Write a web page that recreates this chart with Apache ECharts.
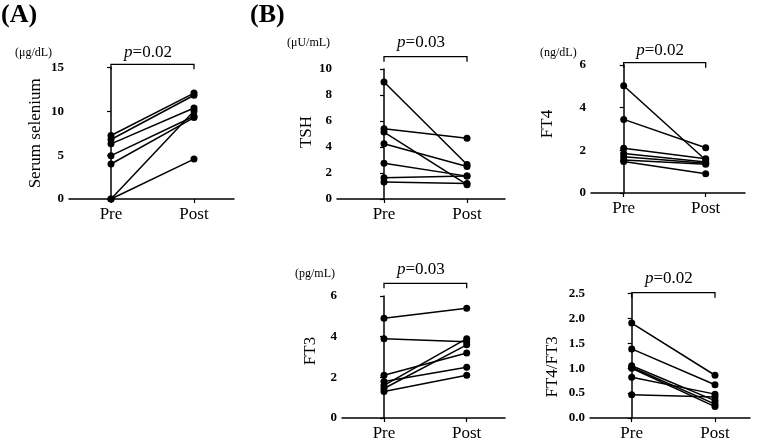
<!DOCTYPE html>
<html><head><meta charset="utf-8">
<script src="https://cdn.jsdelivr.net/npm/echarts@6/dist/echarts.min.js"></script>
<style>html,body{margin:0;padding:0;background:#fff}#c{width:758px;height:442px}</style>
</head><body><div id="c"></div>
<script>
const categories = ['Pre', 'Post'];
const seleniumPre  = [7.25, 6.8, 6.3, 4.95, 4.0, 0, 0];
const seleniumPost = [12.1, 11.85, 10.4, 9.45, 9.3, 10.05, 4.56];
const tshPre  = [9.0, 5.4, 5.15, 4.25, 2.75, 1.63, 1.3];
const tshPost = [2.65, 4.68, 1.1, 2.5, 1.76, 1.76, 1.2];
const ft4Pre  = [5.03, 3.45, 2.1, 1.85, 1.7, 1.55, 1.48];
const ft4Post = [1.55, 2.12, 1.6, 1.45, 1.4, 1.35, 0.9];
const ft3Pre  = [4.9, 3.9, 2.1, 1.8, 1.6, 1.45, 1.3];
const ft3Post = [5.4, 3.75, 3.2, 2.5, 3.9, 3.6, 2.1];
const ratioPre  = [1.91, 1.39, 1.05, 1.02, 1.0, 0.82, 0.47];
const ratioPost = [0.86, 0.67, 0.35, 0.28, 0.23, 0.48, 0.42];

const axisNames = ['Serum selenium', 'TSH', 'FT4', 'FT3', 'FT4/FT3'];
const unitLabels = ['(μg/dL)', '(μU/mL)', '(ng/dL)', '(pg/mL)', ''];
const pLabels = ['0.02', '0.03', '0.02', '0.03', '0.02'];
const yMax = [15, 10, 6, 6, 2.5];
const yInterval = [5, 2, 2, 2, 0.5];
const yDecimals = [0, 0, 0, 0, 1];

const panels = [
  {pre: seleniumPre, post: seleniumPost},
  {pre: tshPre, post: tshPost},
  {pre: ft4Pre, post: ft4Post},
  {pre: ft3Pre, post: ft3Post},
  {pre: ratioPre, post: ratioPost}
];

// layout (pixels)
const layout = [
  {left: 69,  top: 67.7, height: 131.3, pre: 111,   post: 194,   right: 234, nameGap: 25, namePad: [0, 0, 0, 0],  unitX: 15,  unitY: 53,  pY: 53,  brY: 64.3},
  {left: 337, top: 69,   height: 130,   pre: 384,   post: 467,   right: 505, nameGap: 22, namePad: [0, 0, 0, 4],  unitX: 287, unitY: 43,  pY: 43,  brY: 56.7},
  {left: 591, top: 65,   height: 128,   pre: 623.7, post: 705.7, right: 745, nameGap: 35, namePad: [0, 0, 0, 10], unitX: 540, unitY: 53,  pY: 50.5,brY: 62.7},
  {left: 342, top: 296,  height: 126,   pre: 384,   post: 466.7, right: 505, nameGap: 23, namePad: [0, 0, 0, 12], unitX: 295, unitY: 274, pY: 270, brY: 283.3},
  {left: 590, top: 293.7,height: 126.3, pre: 631.7, post: 715,   right: 750, nameGap: 29, namePad: [0, 22, 0, 0], unitX: 0,   unitY: 0,   pY: 279, brY: 292.7}
];

const FONT = 'Liberation Serif';
const grids = [], xAxes = [], yAxes = [], series = [], graphics = [];

layout.forEach((L, i) => {
  const unit = L.post - L.pre;
  grids.push({left: L.left, top: L.top, width: L.right - L.left, height: L.height, containLabel: false});
  xAxes.push({
    type: 'value', gridIndex: i,
    min: -(L.pre - L.left) / unit, max: 1 + (L.right - L.post) / unit,
    splitLine: {show: false},
    axisLine: {show: true, onZero: false, lineStyle: {color: '#000', width: 1.5}},
    axisTick: {show: true, customValues: [0, 1], length: 4, lineStyle: {color: '#000', width: 1.2}},
    axisLabel: {customValues: [0, 1], formatter: v => categories[Math.round(v)], color: '#000',
      fontFamily: FONT, fontSize: 17, margin: 7}
  });
  yAxes.push({
    type: 'value', gridIndex: i, min: 0, max: yMax[i], interval: yInterval[i],
    name: axisNames[i], nameLocation: 'middle', nameGap: L.nameGap,
    nameTextStyle: {fontFamily: FONT, fontSize: 17, color: '#000', padding: L.namePad},
    splitLine: {show: false},
    axisLine: {show: true, lineStyle: {color: '#000', width: 1.5}},
    axisTick: {show: true, length: 4, lineStyle: {color: '#000', width: 1.2}},
    axisLabel: {color: '#000', fontFamily: FONT, fontWeight: 'bold', fontSize: 13, margin: 5,
      formatter: v => v.toFixed(yDecimals[i])}
  });
  const P = panels[i];
  P.pre.forEach((v, j) => {
    series.push({
      type: 'line', xAxisIndex: i, yAxisIndex: i,
      data: [[0, v], [1, P.post[j]]],
      symbol: 'circle', symbolSize: 7, clip: false,
      itemStyle: {color: '#000'}, lineStyle: {color: '#000', width: 1.5},
      silent: true, animation: false
    });
  });
  // bracket
  graphics.push({type: 'polyline', shape: {points: [[L.pre, L.brY + 5], [L.pre, L.brY], [L.post, L.brY], [L.post, L.brY + 5]]},
    style: {stroke: '#000', lineWidth: 1.3, fill: null}});
  graphics.push({type: 'text', x: (L.pre + L.post) / 2 - 4.5, y: L.pY,
    style: {text: '{it|p}=' + pLabels[i], align: 'center', verticalAlign: 'middle', fill: '#000',
      font: '17px ' + FONT, rich: {it: {fontStyle: 'italic', fontFamily: FONT, fontSize: 17}}}});
  if (unitLabels[i]) {
    graphics.push({type: 'text', x: L.unitX, y: L.unitY,
      style: {text: unitLabels[i], align: 'left', verticalAlign: 'middle', fill: '#000', font: '12px ' + FONT}});
  }
});
graphics.push({type: 'text', x: 1, y: 15, style: {text: '(A)', verticalAlign: 'middle', fill: '#000', font: 'bold 26px ' + FONT}});
graphics.push({type: 'text', x: 250, y: 15, style: {text: '(B)', verticalAlign: 'middle', fill: '#000', font: 'bold 26px ' + FONT}});

const chart = echarts.init(document.getElementById('c'), null, {renderer: 'canvas'});
chart.setOption({animation: false, grid: grids, xAxis: xAxes, yAxis: yAxes, series: series, graphic: graphics});
</script></body></html>
